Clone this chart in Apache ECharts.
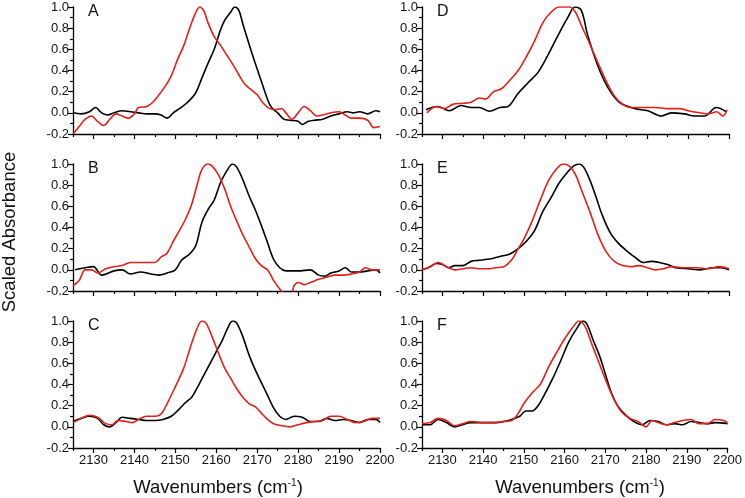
<!DOCTYPE html>
<html>
<head>
    <meta charset="UTF-8">
    <title>Scaled Absorbance panels A-F</title>
    <script src="https://cdn.jsdelivr.net/npm/echarts@6/dist/echarts.min.js"></script>
</head>
<body style="margin:0">
<div id="main" style="width: 745px;height:498px;"></div>
<script type="text/javascript">
    // tick labels
    let xTicks = [2130, 2140, 2150, 2160, 2170, 2180, 2190, 2200];
    let xMinorTicks = [2125, 2135, 2145, 2155, 2165, 2175, 2185, 2195];

    // 各面板数据 [波数, 吸光度]
    let aBlack = [[2125, 0.0], [2127, -0.01], [2129, 0.01], [2130.5, 0.05], [2132, 0.0], [2133.5, -0.02], [2135, 0.0], [2137, 0.02], [2139, 0.01], [2141, 0.0], [2143, -0.01], [2145, -0.01], [2146.5, -0.02], [2148, -0.05], [2149.5, 0.0], [2151, 0.04], [2153, 0.1], [2155, 0.19], [2156.5, 0.33], [2158, 0.47], [2159.5, 0.6], [2161, 0.78], [2162, 0.87], [2163.5, 0.95], [2164.5, 1.0], [2165.5, 0.97], [2166.5, 0.84], [2168, 0.65], [2169.5, 0.47], [2171, 0.3], [2172.5, 0.13], [2173.5, 0.05], [2175, 0.0], [2176.5, -0.06], [2178, -0.07], [2180, -0.08], [2181, -0.11], [2182.5, -0.08], [2184, -0.07], [2186, -0.06], [2188, -0.03], [2190, -0.01], [2192, 0.01], [2193.5, 0.0], [2195, 0.01], [2197, -0.01], [2199, 0.02], [2200, 0.01]];
    let aRed = [[2125, -0.2], [2126.5, -0.13], [2128, -0.06], [2129.5, -0.03], [2131, -0.08], [2132.5, -0.12], [2134, -0.06], [2135.5, -0.01], [2137, -0.03], [2138.5, -0.05], [2140, -0.01], [2141, 0.05], [2143, 0.06], [2144.5, 0.1], [2146, 0.17], [2147.5, 0.25], [2149, 0.35], [2150.5, 0.5], [2152, 0.63], [2153.5, 0.8], [2155, 0.95], [2156, 1.0], [2157, 0.96], [2158, 0.85], [2159.5, 0.72], [2161, 0.64], [2162.5, 0.55], [2164, 0.46], [2165.5, 0.36], [2167, 0.27], [2168.5, 0.22], [2170, 0.17], [2171.5, 0.09], [2173, 0.04], [2174.5, 0.03], [2176, 0.04], [2177, 0.0], [2178.5, -0.06], [2180, 0.0], [2181.5, 0.06], [2183, 0.02], [2184.5, -0.03], [2186, -0.02], [2188, 0.0], [2190, 0.01], [2191.5, -0.02], [2193, -0.05], [2195, -0.05], [2197, -0.07], [2198.5, -0.14], [2200, -0.13]];

    let bBlack = [[2125.5, 0.0], [2128, 0.02], [2130, 0.03], [2132, -0.05], [2135, -0.01], [2137, 0.0], [2139, -0.04], [2141.5, -0.02], [2144, -0.04], [2146, -0.05], [2148, -0.03], [2150, 0.0], [2151.5, 0.09], [2153.5, 0.15], [2155, 0.23], [2156.5, 0.45], [2158, 0.57], [2159.5, 0.66], [2161, 0.82], [2162.5, 0.93], [2164, 1.0], [2165, 0.97], [2166.5, 0.85], [2168, 0.7], [2169.5, 0.57], [2171, 0.42], [2172.5, 0.26], [2174, 0.1], [2175.5, 0.02], [2177, -0.01], [2180, -0.01], [2183, 0.0], [2185, -0.05], [2186.5, -0.06], [2188, -0.03], [2190, -0.01], [2191.5, 0.02], [2193, -0.02], [2195, -0.02], [2197, -0.01], [2199, 0.0], [2200, -0.03]];
    let bRed = [[2125, -0.15], [2126.5, -0.1], [2128, 0.0], [2129.5, 0.0], [2131, -0.03], [2133, 0.01], [2135, 0.03], [2137, 0.04], [2139, 0.07], [2141, 0.07], [2143, 0.07], [2145, 0.07], [2146.5, 0.12], [2148, 0.16], [2149.5, 0.27], [2151, 0.37], [2152.5, 0.48], [2154, 0.62], [2155.5, 0.83], [2156.5, 0.95], [2158, 1.0], [2159, 0.98], [2160.5, 0.9], [2162, 0.77], [2163.5, 0.6], [2165, 0.46], [2166.5, 0.33], [2168, 0.22], [2169.5, 0.11], [2171, 0.04], [2172.5, 0.0], [2174, -0.1], [2175.5, -0.18], [2176.5, -0.22], [2177.5, -0.25], [2178.5, -0.22], [2179, -0.15], [2180, -0.12], [2181.5, -0.14], [2183, -0.12], [2185, -0.09], [2187, -0.07], [2189, -0.05], [2191, -0.05], [2193, -0.04], [2195, -0.02], [2196.5, 0.02], [2198, 0.0], [2200, 0.0]];

    let cBlack = [[2125, 0.05], [2127, 0.08], [2129, 0.1], [2131, 0.08], [2132.5, 0.02], [2134, 0.0], [2135.5, 0.04], [2137, 0.09], [2139, 0.08], [2141, 0.07], [2143, 0.06], [2145, 0.06], [2147, 0.07], [2149, 0.1], [2151, 0.17], [2152.5, 0.23], [2154, 0.28], [2155.5, 0.38], [2157, 0.49], [2158.5, 0.6], [2160, 0.71], [2161.5, 0.82], [2163, 0.95], [2164, 1.0], [2165, 0.98], [2166.5, 0.85], [2168, 0.68], [2169.5, 0.54], [2171, 0.42], [2172.5, 0.3], [2174, 0.18], [2175.5, 0.1], [2177, 0.07], [2179, 0.1], [2181, 0.09], [2183, 0.05], [2185, 0.05], [2187, 0.08], [2189, 0.06], [2191, 0.07], [2193, 0.06], [2195, 0.04], [2197, 0.07], [2199, 0.07], [2200, 0.04]];
    let cRed = [[2125, 0.04], [2127, 0.08], [2129, 0.11], [2131, 0.09], [2133, 0.03], [2134.5, 0.02], [2136, 0.06], [2138, 0.05], [2139.5, 0.04], [2141, 0.07], [2143, 0.1], [2145, 0.1], [2146.5, 0.12], [2148, 0.22], [2150, 0.38], [2152, 0.55], [2153.5, 0.73], [2155, 0.9], [2156.5, 1.0], [2157.5, 0.98], [2159, 0.85], [2160.5, 0.7], [2162, 0.56], [2163.5, 0.46], [2165, 0.36], [2166.5, 0.28], [2168, 0.22], [2169.5, 0.19], [2171, 0.13], [2172.5, 0.07], [2174, 0.03], [2176, 0.01], [2178, 0.0], [2180, 0.02], [2182, 0.04], [2184, 0.05], [2186, 0.06], [2188, 0.1], [2190, 0.1], [2192, 0.07], [2194, 0.04], [2196, 0.05], [2198, 0.08], [2200, 0.08]];

    let dBlack = [[2126, 0.03], [2128.8, 0.06], [2131.7, 0.02], [2134.5, 0.07], [2137, 0.05], [2139, 0.05], [2141.5, 0.015], [2144, 0.05], [2146, 0.06], [2148.4, 0.18], [2150.8, 0.28], [2153.3, 0.38], [2155.7, 0.54], [2158.2, 0.73], [2160.6, 0.9], [2162.4, 1.0], [2163.9, 0.97], [2165.5, 0.73], [2167.9, 0.45], [2170.4, 0.24], [2173.2, 0.1], [2176.9, 0.04], [2180.2, 0.02], [2183.4, -0.03], [2185.9, 0.0], [2189.1, -0.01], [2191.6, -0.03], [2194, -0.03], [2196.9, 0.05], [2199.3, 0.01]];
    let dRed = [[2126.2, 0.0], [2128.5, 0.06], [2130.5, 0.04], [2132.5, 0.08], [2135, 0.09], [2137, 0.1], [2139, 0.14], [2140.5, 0.13], [2142.5, 0.2], [2144.5, 0.23], [2146.5, 0.31], [2148.5, 0.4], [2150.5, 0.53], [2152.5, 0.68], [2154.5, 0.85], [2156.5, 0.95], [2158.5, 1.0], [2161, 1.0], [2162.5, 0.95], [2164, 0.82], [2166, 0.65], [2168, 0.47], [2170, 0.3], [2172, 0.16], [2174, 0.08], [2176, 0.05], [2179, 0.05], [2182, 0.05], [2185, 0.04], [2188, 0.04], [2190, 0.02], [2193, 0.0], [2195, -0.01], [2197, 0.01], [2198.5, -0.03], [2199.5, 0.03]];

    let eBlack = [[2125, 0.0], [2127, 0.03], [2128.5, 0.06], [2130, 0.05], [2131.5, 0.02], [2133, 0.04], [2135, 0.04], [2137, 0.08], [2139, 0.09], [2141, 0.1], [2142.5, 0.11], [2144.5, 0.13], [2146.5, 0.15], [2148.5, 0.2], [2150.5, 0.27], [2152.5, 0.37], [2154.5, 0.55], [2156.5, 0.68], [2158.5, 0.82], [2160.5, 0.92], [2162, 0.98], [2163.5, 1.0], [2164.5, 0.97], [2166, 0.85], [2167.5, 0.69], [2169, 0.52], [2171, 0.35], [2173, 0.25], [2175, 0.18], [2177, 0.12], [2179, 0.07], [2181, 0.08], [2183, 0.07], [2185, 0.05], [2187, 0.02], [2190, 0.01], [2193, 0.0], [2196, 0.02], [2198, 0.02], [2200, 0.0]];
    let eRed = [[2125, 0.0], [2127, 0.03], [2129, 0.07], [2131, 0.03], [2133, 0.0], [2135, 0.01], [2137, 0.02], [2139, 0.01], [2141, 0.01], [2143, 0.02], [2145, 0.03], [2147, 0.1], [2148.5, 0.2], [2150, 0.3], [2152, 0.47], [2154, 0.67], [2156, 0.85], [2158, 0.96], [2159.5, 1.0], [2161, 0.98], [2162.5, 0.9], [2164, 0.75], [2166, 0.55], [2168, 0.33], [2170, 0.17], [2172, 0.08], [2174, 0.04], [2176, 0.03], [2178, 0.04], [2180, 0.02], [2182, 0.0], [2184, 0.01], [2186, 0.03], [2189, 0.02], [2192, 0.02], [2195, 0.01], [2197.5, 0.03], [2200, 0.01]];

    let fBlack = [[2125, 0.02], [2127, 0.02], [2129, 0.07], [2131, 0.04], [2133, 0.0], [2135, 0.02], [2137, 0.04], [2140, 0.04], [2143, 0.04], [2145, 0.05], [2147, 0.07], [2149, 0.1], [2150.5, 0.15], [2152, 0.15], [2153.5, 0.2], [2155, 0.3], [2157, 0.45], [2159, 0.62], [2161, 0.8], [2163, 0.93], [2164.5, 1.0], [2165.5, 0.97], [2167, 0.82], [2168.5, 0.68], [2170, 0.5], [2171.5, 0.32], [2173, 0.2], [2175, 0.11], [2177, 0.05], [2179, 0.02], [2181, 0.06], [2183, 0.05], [2185, 0.02], [2187, 0.03], [2189, 0.02], [2191, 0.05], [2193, 0.04], [2195, 0.03], [2197, 0.04], [2200, 0.03]];
    let fRed = [[2125, 0.03], [2127, 0.04], [2129, 0.08], [2131, 0.06], [2133, 0.01], [2135, 0.03], [2137, 0.05], [2140, 0.04], [2143, 0.04], [2145, 0.05], [2147, 0.06], [2148.5, 0.12], [2150, 0.22], [2152, 0.32], [2154, 0.4], [2156, 0.56], [2158, 0.7], [2160, 0.83], [2162, 0.94], [2163.5, 1.0], [2165, 0.95], [2166.5, 0.8], [2168, 0.65], [2170, 0.45], [2172, 0.27], [2174, 0.14], [2176, 0.08], [2178, 0.05], [2180, 0.0], [2181.5, 0.06], [2183, 0.04], [2185, 0.02], [2187, 0.04], [2189, 0.06], [2191, 0.07], [2193, 0.03], [2195, 0.03], [2197, 0.07], [2199, 0.06], [2200, 0.04]];

    let panelLabels = ['A', 'B', 'C', 'D', 'E', 'F'];
    let blackData = [aBlack, bBlack, cBlack, dBlack, eBlack, fBlack];
    let redData = [aRed, bRed, cRed, dRed, eRed, fRed];

    // 布局
    const colLeft = [73, 422];
    const rowTop = [7, 164, 321];
    const gridW = 307;
    const gridH = 127;
    const font = 'Arial, "Liberation Sans", sans-serif';
    const red = '#e3201b';

    let grids = [], xAxes = [], yAxes = [], series = [], graphics = [];

    panelLabels.forEach((lab, i) => {
        let col = Math.floor(i / 3);
        let row = i % 3;
        let bottomRow = row === 2;
        grids.push({left: colLeft[col], top: rowTop[row], width: gridW, height: gridH});

        // 主刻度 + 标签
        xAxes.push({
            type: 'value', gridIndex: i, min: 2125, max: 2200, position: 'bottom',
            axisLine: {onZero: false, lineStyle: {color: '#000', width: 1.3}},
            axisTick: {customValues: xTicks, length: 5, lineStyle: {color: '#000', width: 1.2}},
            axisLabel: {
                show: bottomRow, customValues: xTicks, margin: 6, fontSize: 13, color: '#111', fontFamily: font,
                formatter: v => String(Math.round(v))
            },
            splitLine: {show: false}
        });
        // 次刻度
        xAxes.push({
            type: 'value', gridIndex: i, min: 2125, max: 2200, position: 'bottom',
            axisLine: {show: false, onZero: false},
            axisTick: {customValues: xMinorTicks, length: 3, lineStyle: {color: '#000', width: 1.2}},
            axisLabel: {show: false},
            splitLine: {show: false}
        });
        yAxes.push({
            type: 'value', gridIndex: i, min: -0.2, max: 1.0, interval: 0.2,
            axisLine: {show: true, onZero: false, lineStyle: {color: '#000', width: 1.3}},
            axisTick: {show: true, length: 5, lineStyle: {color: '#000', width: 1.2}},
            minorTick: {show: true, splitNumber: 2, length: 3, lineStyle: {color: '#000', width: 1.2}},
            axisLabel: {
                margin: 4, fontSize: 13, color: '#111', fontFamily: font,
                formatter: v => (Math.abs(v) < 1e-9 ? 0 : v).toFixed(1)
            },
            splitLine: {show: false}
        });
        series.push({
            type: 'line', xAxisIndex: i * 2, yAxisIndex: i, data: blackData[i],
            showSymbol: false, smooth: 0.35, lineStyle: {color: '#000', width: 1.6}, silent: true
        });
        series.push({
            type: 'line', xAxisIndex: i * 2, yAxisIndex: i, data: redData[i],
            showSymbol: false, smooth: 0.35, lineStyle: {color: red, width: 1.6}, silent: true
        });
        graphics.push({
            type: 'text', left: colLeft[col] + 15, top: rowTop[row] - 3,
            style: {text: lab, fontSize: 16, fill: '#111', fontFamily: font}
        });
    });

    // 轴标题
    [218, 580].forEach(cx => {
        graphics.push({
            type: 'text', x: cx, y: 488,
            style: {
                text: 'Wavenumbers (cm{sup|-1})', fontSize: 18.5, fill: '#111', fontFamily: font,
                align: 'center', verticalAlign: 'middle',
                rich: {sup: {fontSize: 10, fill: '#111', fontFamily: font, padding: [0, 0, 10, 0]}}
            }
        });
    });
    graphics.push({
        type: 'text', x: 10, y: 232, rotation: Math.PI / 2,
        style: {text: 'Scaled Absorbance', fontSize: 18.5, fill: '#111', fontFamily: font, align: 'center', verticalAlign: 'middle'}
    });

    var myChart = echarts.init(document.getElementById('main'));
    let option = {
        animation: false,
        backgroundColor: '#fff',
        grid: grids,
        xAxis: xAxes,
        yAxis: yAxes,
        series: series,
        graphic: graphics
    };
    myChart.setOption(option);
</script>
</body>
</html>
